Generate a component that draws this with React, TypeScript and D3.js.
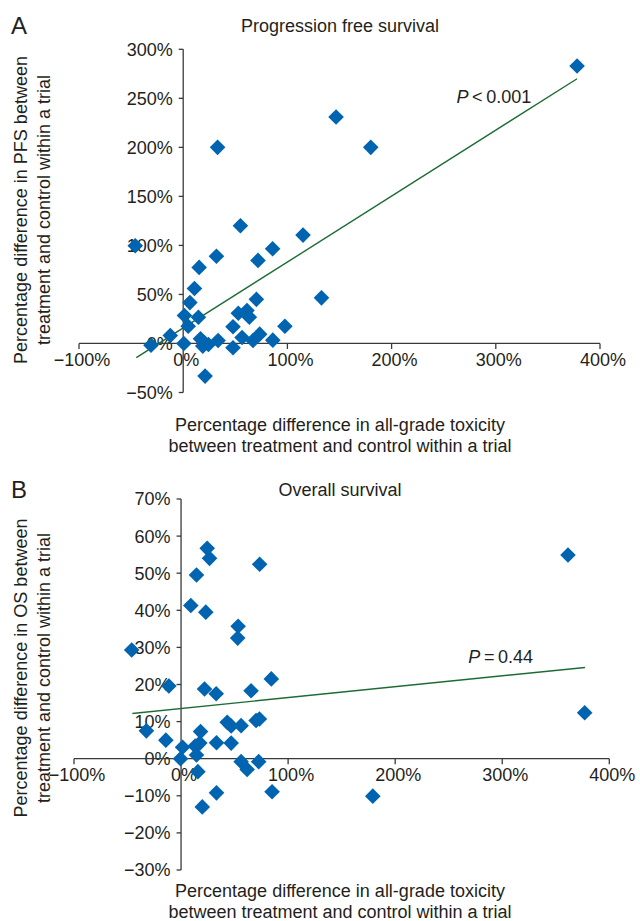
import React from "react";
import * as d3 from "d3";

// Panel A: progression free survival (x = toxicity diff %, y = PFS diff %)
const pfsToxicity = [
  378, 146.7, 180, 33, 115, 132.7, 97.6, -46, 54.9, 85.8, 71.8, 31.9, 15.3, 10.8,
  6.4, 1.2, 14.6, 4.8, 70.2, 52.9, 61.2, 63.5, 47.8, -12.4, 0.6, 16.6, 18.8,
  24.2, 33.5, 47.8, 56.5, 67, 73.4, 86, -30.9, 21, 20,
];
const pfsDiff = [
  283, 231, 200, 200, 110.5, 46.5, 17.6, 99.7, 120, 96.6, 84.7, 89, 77.6, 56,
  41.7, 28.5, 26.8, 17.6, 45, 30.8, 33.6, 26.8, 17, 8.1, 0, 4.8, -2.7, -1, 3,
  -4.4, 6.1, 3, 9.5, 3.4, -1.7, -33.3, 1,
];
const pfsFitX = [-45, 378];
const pfsFitY = [-14.5, 270];

// Panel B: overall survival
const osToxicity = [
  24.4, 26.6, 14.4, 73.4, 9.1, 23.1, 53.3, 52.9, -46.1, 84.3, -11.4, 21.9, 32.8,
  65.4, -32.4, -14.2, 18.2, 1.4, -0.5, 13.2, 17.5, 14.4, 33.1, 46.8, 43.1, 46.8,
  56.1, 70.1, 73.2, 56.1, 61.7, 72.5, 15.7, 33.1, 19.8, 85, 361.4, 377, 179.1,
];
const osDiff = [
  56.7, 54, 49.5, 52.4, 41.3, 39.5, 35.7, 32.5, 29.3, 21.5, 19.6, 18.8, 17.5,
  18.3, 7.5, 5, 7.3, 3.1, 0, 3.4, 4.2, 1, 4.3, 4.2, 9.8, 8.8, 8.9, 10.3, 10.7,
  -0.8, -2.9, -0.8, -3.5, -9.2, -13, -8.9, 54.9, 12.4, -10.1,
];
const osFitX = [-45.5, 377.3];
const osFitY = [12.2, 24.6];

const xTicks = [-100, 0, 100, 200, 300, 400];
const pfsTicks = [-50, 0, 50, 100, 150, 200, 250, 300];
const osTicks = [-30, -20, -10, 0, 10, 20, 30, 40, 50, 60, 70];

const FONT = "'Liberation Sans', Arial, Helvetica, sans-serif";
const TEXT = "#231f20";
const AXIS = "#3a3a3a";
const DOT = "#0064b0";
const FIT = "#1d6b35";

const fmt = (v: number) => (v < 0 ? "\u2212" + Math.abs(v) : String(v)) + "%";

type PanelProps = {
  letter: string;
  title: string;
  titleY: number;
  letterY: number;
  xs: number[];
  ys: number[];
  fitX: number[];
  fitY: number[];
  yTicks: number[];
  xRange: [number, number];
  yRange: [number, number];
  yDomain: [number, number];
  yLabel: string;
  yLabelCenter: number;
  xLabelY: number;
  pText: string;
  pX: number;
  pY: number;
};

function Panel(p: PanelProps) {
  const x = d3.scaleLinear().domain([-100, 400]).range(p.xRange);
  const y = d3.scaleLinear().domain(p.yDomain).range(p.yRange);
  const x0 = x(0);
  const y0 = y(0);
  const line = d3
    .line<number>()
    .x((d) => x(d))
    .y((_, i) => y(p.fitY[i]));
  const diamond = d3.symbol().type(d3.symbolSquare).size(122)();
  const xMid = 340;

  return (
    <g fontFamily={FONT} fill={TEXT}>
      <text x={11} y={p.letterY} fontSize={24}>
        {p.letter}
      </text>
      <text x={xMid} y={p.titleY} fontSize={18} textAnchor="middle">
        {p.title}
      </text>

      {/* y axis */}
      <line x1={x0} x2={x0} y1={y(p.yDomain[1])} y2={y(p.yDomain[0])} stroke={AXIS} strokeWidth={1.3} />
      {p.yTicks.map((t) => (
        <g key={"y" + t}>
          <line x1={x0 - 4.5} x2={x0} y1={y(t)} y2={y(t)} stroke={AXIS} strokeWidth={1.3} />
          <text x={x0 - 10.5} y={y(t)} dy="0.36em" fontSize={18} textAnchor="end">
            {fmt(t)}
          </text>
        </g>
      ))}

      {/* x axis */}
      <line x1={x(-100)} x2={x(400)} y1={y0} y2={y0} stroke={AXIS} strokeWidth={1.3} />
      {xTicks.map((t) => (
        <g key={"x" + t}>
          <line x1={x(t)} x2={x(t)} y1={y0} y2={y0 + 5.5} stroke={AXIS} strokeWidth={1.3} />
          <text x={x(t) + 3} y={y0 + 22.5} fontSize={18} textAnchor="middle">
            {fmt(t)}
          </text>
        </g>
      ))}

      {/* axis titles */}
      <text
        transform={`translate(27,${p.yLabelCenter}) rotate(-90)`}
        fontSize={18}
        textAnchor="middle"
      >
        {p.yLabel}
      </text>
      <text
        transform={`translate(49.5,${p.yLabelCenter}) rotate(-90)`}
        fontSize={18}
        textAnchor="middle"
      >
        treatment and control within a trial
      </text>
      <text x={xMid} y={p.xLabelY} fontSize={18} textAnchor="middle">
        Percentage difference in all-grade toxicity
      </text>
      <text x={xMid} y={p.xLabelY + 21} fontSize={18} textAnchor="middle">
        between treatment and control within a trial
      </text>

      {/* trend line */}
      <path d={line(p.fitX) || ""} fill="none" stroke={FIT} strokeWidth={1.4} />
      <text x={p.pX} y={p.pY} fontSize={18}>
        <tspan fontStyle="italic">P</tspan>
        {p.pText}
      </text>

      {/* points */}
      {p.xs.map((v, i) => (
        <path
          key={i}
          d={diamond || ""}
          transform={`translate(${x(v)},${y(p.ys[i])}) rotate(45)`}
          fill={DOT}
        />
      ))}
    </g>
  );
}

export default function App() {
  return (
    <svg
      width={640}
      height={921}
      style={{ position: "absolute", left: 0, top: 0, background: "#fff" }}
    >
      <rect width={640} height={921} fill="#fff" />
      <Panel
        letter="A"
        title="Progression free survival"
        titleY={31.5}
        letterY={34}
        xs={pfsToxicity}
        ys={pfsDiff}
        fitX={pfsFitX}
        fitY={pfsFitY}
        yTicks={pfsTicks}
        xRange={[79, 600]}
        yRange={[392.5, 49.3]}
        yDomain={[-50, 300]}
        yLabel="Percentage difference in PFS between"
        yLabelCenter={210}
        xLabelY={430.5}
        pText={"\u2009<\u20090.001"}
        pX={456.5}
        pY={103.3}
      />
      <Panel
        letter="B"
        title="Overall survival"
        titleY={496}
        letterY={498}
        xs={osToxicity}
        ys={osDiff}
        fitX={osFitX}
        fitY={osFitY}
        yTicks={osTicks}
        xRange={[74, 609.3]}
        yRange={[870, 499]}
        yDomain={[-30, 70]}
        yLabel="Percentage difference in OS between"
        yLabelCenter={668}
        xLabelY={897}
        pText={"\u2009=\u20090.44"}
        pX={468.3}
        pY={662.7}
      />
    </svg>
  );
}
